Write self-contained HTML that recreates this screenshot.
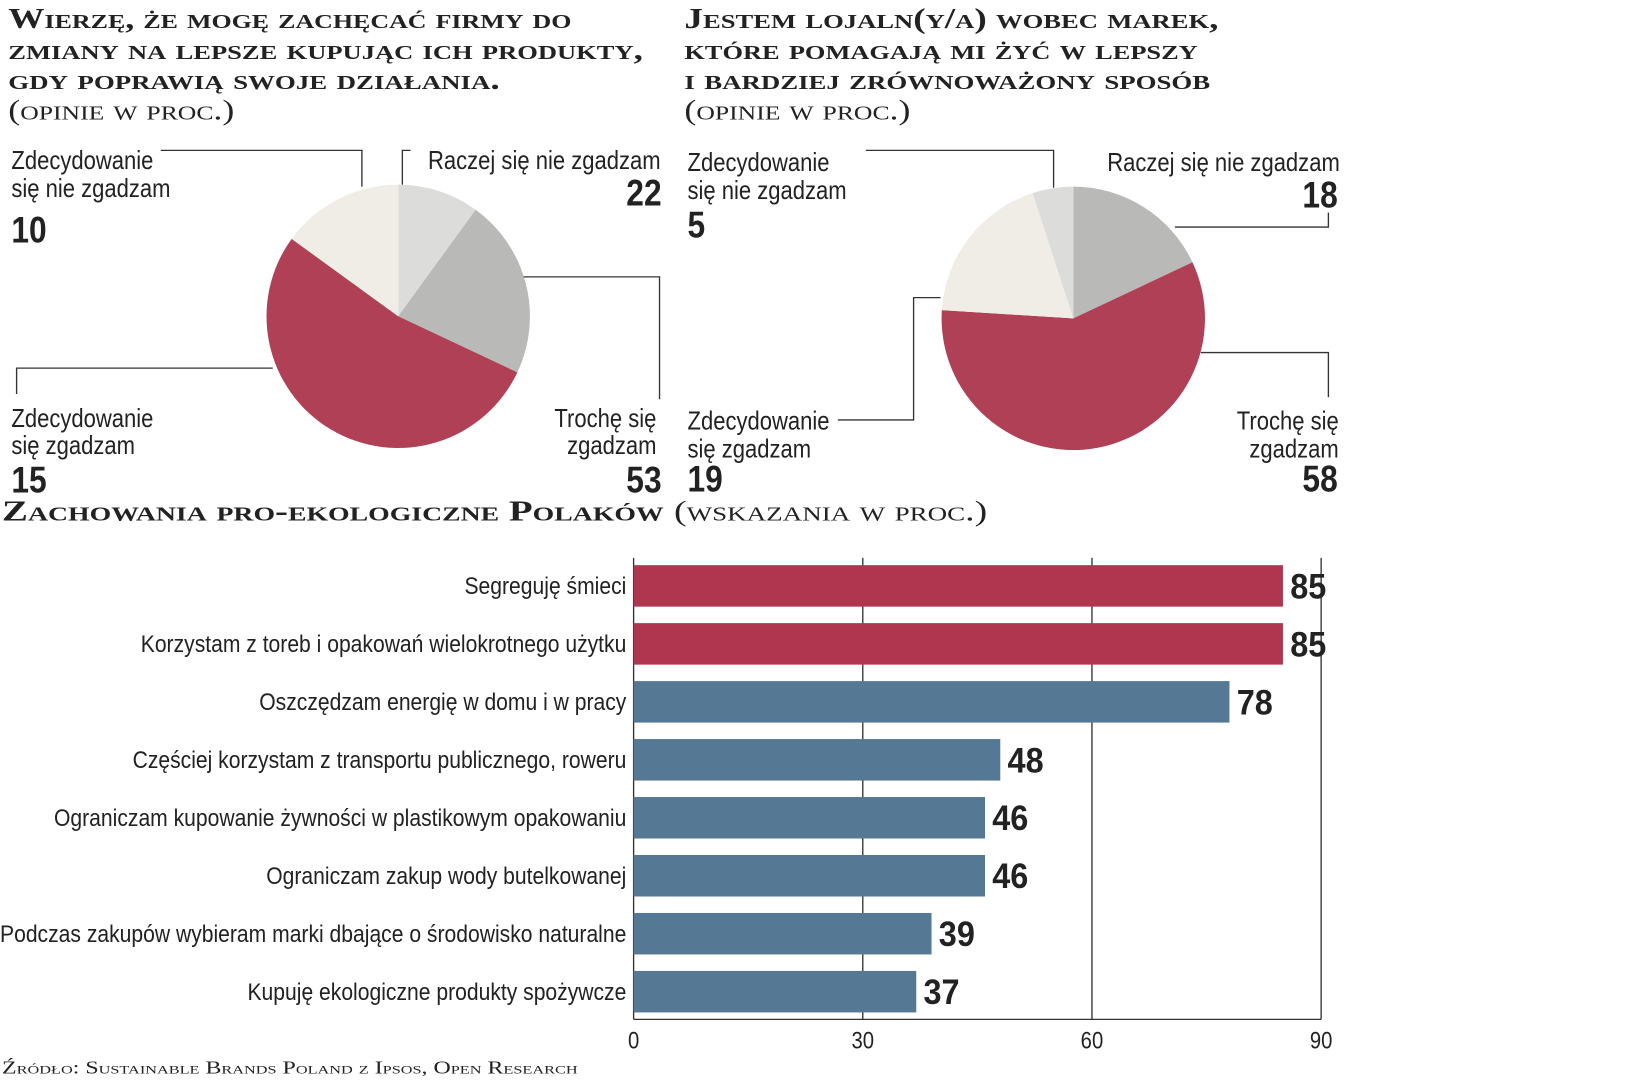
<!DOCTYPE html>
<html><head><meta charset="utf-8"><style>
body{margin:0;background:#fff}
svg{display:block}
.t{font-family:"Liberation Serif",serif;font-weight:bold;font-variant:small-caps;fill:#222}
.s{font-family:"Liberation Serif",serif;font-variant:small-caps;fill:#222}
.c{font-family:"Liberation Sans",sans-serif;font-size:23px;fill:#222}
.p{font-family:"Liberation Sans",sans-serif;font-size:25px;fill:#222}
.n{font-family:"Liberation Sans",sans-serif;font-size:34px;font-weight:bold;fill:#222}
.pn{font-family:"Liberation Sans",sans-serif;font-size:36px;font-weight:bold;fill:#222}
.ld{fill:none;stroke:#333;stroke-width:1.3}
</style></head><body>
<svg id="svg" width="1625" height="1080" viewBox="0 0 1625 1080">
<g transform="scale(1.037)">
<g>
<text class="t" x="8" y="27" font-size="27" textLength="543" lengthAdjust="spacingAndGlyphs">Wierzę, że mogę zachęcać firmy do</text>
<text class="t" x="8" y="57" font-size="27" textLength="612" lengthAdjust="spacingAndGlyphs">zmiany na lepsze kupując ich produkty,</text>
<text class="t" x="8" y="86" font-size="27" textLength="474" lengthAdjust="spacingAndGlyphs">gdy poprawią swoje działania.</text>
<text class="s" x="8" y="115" font-size="27" textLength="218" lengthAdjust="spacingAndGlyphs">(opinie w proc.)</text>
</g>
<g>
<text class="t" x="660" y="27" font-size="27" textLength="515" lengthAdjust="spacingAndGlyphs">Jestem lojaln(y/a) wobec marek,</text>
<text class="t" x="660" y="57" font-size="27" textLength="495" lengthAdjust="spacingAndGlyphs">które pomagają mi żyć w lepszy</text>
<text class="t" x="660" y="86" font-size="27" textLength="507" lengthAdjust="spacingAndGlyphs">i bardziej zrównoważony sposób</text>
<text class="s" x="660" y="115" font-size="27" textLength="218" lengthAdjust="spacingAndGlyphs">(opinie w proc.)</text>
</g>
<g id="pie1"></g>
<g id="pie2"></g>
<g>
<polyline class="ld" points="155,145 349,145 349,180"/>
<polyline class="ld" points="396,145 388,145 388,178"/>
<polyline class="ld" points="505,267 636,267 636,385"/>
<polyline class="ld" points="16,380 16,355 263,355"/>
</g>
<g>
<polyline class="ld" points="835,145 1016,145 1016,181"/>
<polyline class="ld" points="1133,219 1281,219 1281,205"/>
<polyline class="ld" points="1158,340 1281,340 1281,383"/>
<polyline class="ld" points="808,405 881,405 881,287 907,287"/>
</g>
<g>
<text class="p cond" x="11" y="163">Zdecydowanie</text>
<text class="p cond" x="11" y="190">się nie zgadzam</text>
<text class="pn cond" x="11" y="234">10</text>
<text class="p cond" x="637" y="163" text-anchor="end">Raczej się nie zgadzam</text>
<text class="pn cond" x="638" y="198" text-anchor="end">22</text>
<text class="p cond" x="11" y="412">Zdecydowanie</text>
<text class="p cond" x="11" y="438">się zgadzam</text>
<text class="pn cond" x="11" y="475">15</text>
<text class="p cond" x="633" y="412" text-anchor="end">Trochę się</text>
<text class="p cond" x="633" y="438" text-anchor="end">zgadzam</text>
<text class="pn cond" x="638" y="475" text-anchor="end">53</text>
</g>
<g>
<text class="p cond" x="663" y="165">Zdecydowanie</text>
<text class="p cond" x="663" y="192">się nie zgadzam</text>
<text class="pn cond" x="663" y="229">5</text>
<text class="p cond" x="1292" y="165" text-anchor="end">Raczej się nie zgadzam</text>
<text class="pn cond" x="1290" y="200" text-anchor="end">18</text>
<text class="p cond" x="663" y="414">Zdecydowanie</text>
<text class="p cond" x="663" y="441">się zgadzam</text>
<text class="pn cond" x="663" y="474">19</text>
<text class="p cond" x="1291" y="414" text-anchor="end">Trochę się</text>
<text class="p cond" x="1291" y="441" text-anchor="end">zgadzam</text>
<text class="pn cond" x="1290" y="474" text-anchor="end">58</text>
</g>
<g>
<text class="t" x="2" y="502" font-size="27" textLength="638" lengthAdjust="spacingAndGlyphs">Zachowania pro-ekologiczne Polaków</text>
<text class="s" x="650" y="502" font-size="27" textLength="302" lengthAdjust="spacingAndGlyphs">(wskazania w proc.)</text>
</g>
<g id="bars"></g>
<text class="s" x="2" y="1035" font-size="17" textLength="555" lengthAdjust="spacingAndGlyphs">Źródło: Sustainable Brands Poland z Ipsos, Open Research</text>
</g>
</svg>
<script>
const NS="http://www.w3.org/2000/svg";
const pie1Values=[10,22,53,15];
const pie2Values=[18,58,19,5];
const pie1Colors=["#dcdcdb","#b9b9b7","#b04056","#efede6"];
const pie2Colors=["#b9b9b7","#b04056","#efede6","#dcdcdb"];
const categories=["Segreguję śmieci","Korzystam z toreb i opakowań wielokrotnego użytku","Oszczędzam energię w domu i w pracy","Częściej korzystam z transportu publicznego, roweru","Ograniczam kupowanie żywności w plastikowym opakowaniu","Ograniczam zakup wody butelkowanej","Podczas zakupów wybieram marki dbające o środowisko naturalne","Kupuję ekologiczne produkty spożywcze"];
const barValues=[85,85,78,48,46,46,39,37];
const tickValues=[0,30,60,90];
function mk(t,a,p){const e=document.createElementNS(NS,t);for(const k in a)e.setAttribute(k,a[k]);p.appendChild(e);return e;}
function pie(g,vals,cols,cx,cy,r,name){
  const tot=vals.reduce((a,b)=>a+b,0);let a0=0;
  vals.forEach((v,i)=>{const a1=a0+v/tot*2*Math.PI;
    const x0=cx+r*Math.sin(a0),y0=cy-r*Math.cos(a0),x1=cx+r*Math.sin(a1),y1=cy-r*Math.cos(a1);
    const p=mk("path",{d:`M${cx},${cy}L${x0},${y0}A${r},${r} 0 ${a1-a0>Math.PI?1:0} 1 ${x1},${y1}Z`,fill:cols[i]},g);
    
    
    a0=a1;});
}
pie(document.getElementById("pie1"),pie1Values,pie1Colors,384,305,127,"pie1");
pie(document.getElementById("pie2"),pie2Values,pie2Colors,1035,307,127,"pie2");
const bg=document.getElementById("bars");
const X0=611,X1=1274,xMax=90,yTop=538,yBot=983,rowH=55.9,row0=565,bh=40;
const xs=v=>X0+(X1-X0)*v/xMax;
tickValues.forEach(t=>{
  const l=mk("line",{x1:xs(t),x2:xs(t),y1:yTop,y2:yBot,stroke:"#333","stroke-width":1.3},bg);
  
  
  const tx=mk("text",{x:xs(t),y:yBot+28,"text-anchor":"middle",class:"c cond"},bg);tx.textContent=t;
  
  
});
const ax=mk("line",{x1:X0,x2:X1,y1:yBot,y2:yBot,stroke:"#333","stroke-width":1.3},bg);


categories.forEach((c,i)=>{
  const cy=row0+i*rowH;
  const r=mk("rect",{x:X0,y:cy-bh/2,width:xs(barValues[i])-X0,height:bh,fill:i<2?"#b0354f":"#557895"},bg);
  
  
  const lb=mk("text",{x:604,y:cy+8,"text-anchor":"end",class:"c condc"},bg);lb.textContent=c;
  
  
  const vl=mk("text",{x:xs(barValues[i])+7,y:cy+12,class:"n condn"},bg);vl.textContent=barValues[i];
  
  
});
document.querySelectorAll(".cond").forEach(e=>{const w=e.getComputedTextLength();e.setAttribute("textLength",w*0.85);e.setAttribute("lengthAdjust","spacingAndGlyphs");});
document.querySelectorAll(".condc").forEach(e=>{const w=e.getComputedTextLength();e.setAttribute("textLength",w*0.885);e.setAttribute("lengthAdjust","spacingAndGlyphs");});
document.querySelectorAll(".condn").forEach(e=>{const w=e.getComputedTextLength();e.setAttribute("textLength",w*0.92);e.setAttribute("lengthAdjust","spacingAndGlyphs");});
</script>
</body></html>
